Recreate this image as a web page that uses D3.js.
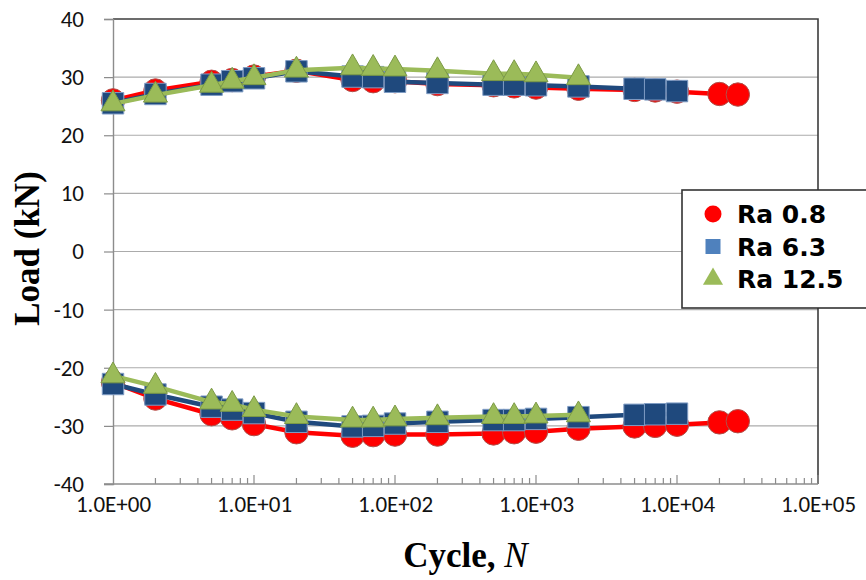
<!DOCTYPE html>
<html>
<head>
<meta charset="utf-8">
<script src="https://cdn.jsdelivr.net/npm/d3@7"></script>
<style>
  html, body { margin: 0; padding: 0; background: #fff; }
  svg { display: block; }
</style>
</head>
<body>
<div id="chart"></div>
<script>
// Load vs cycle count for three surface roughness values (upper / lower load peaks).

const cycles = [1, 2, 5, 7, 10, 20, 50, 70, 100, 200, 500, 700, 1000, 2000, 5000, 7000, 10000, 20000, 27000];

// Ra 0.8 — full cycle range
const ra08Upper = [26.0, 27.7, 29.2, 29.5, 30.1, 31.1, 29.5, 29.3, 29.3, 28.8, 28.6, 28.4, 28.2, 28.0, 27.8, 27.7, 27.5, 27.1, 27.0];
const ra08Lower = [-22.5, -25.3, -28.0, -28.7, -29.7, -31.1, -31.7, -31.6, -31.5, -31.5, -31.3, -31.1, -31.0, -30.5, -30.1, -30.0, -29.8, -29.4, -29.2];

// Ra 6.3 — up to 1e4 cycles
const ra63Upper = [25.5, 27.1, 28.7, 29.3, 29.8, 31.0, 30.1, 30.0, 29.2, 29.0, 28.7, 28.7, 28.6, 28.4, 28.0, 27.9, 27.6];
const ra63Lower = [-22.8, -24.6, -26.7, -27.2, -27.8, -29.3, -30.1, -30.0, -29.6, -29.3, -29.0, -29.0, -28.8, -28.5, -28.1, -28.0, -27.9];

// Ra 12.5 — up to 2000 cycles
const ra125Upper = [25.4, 26.9, 28.6, 29.3, 29.9, 31.2, 31.6, 31.5, 31.4, 31.1, 30.6, 30.6, 30.4, 29.9];
const ra125Lower = [-21.4, -23.2, -25.9, -26.3, -27.2, -28.4, -29.0, -29.0, -28.8, -28.6, -28.4, -28.4, -28.3, -28.1];

const yTicks = [-40, -30, -20, -10, 0, 10, 20, 30, 40];
const xTicks = [1, 10, 100, 1000, 10000, 100000];

const W = 866, H = 580;
const margin = { left: 113, right: 48, top: 19, bottom: 96 };

const svg = d3.select("#chart").append("svg")
  .attr("width", W).attr("height", H)
  .attr("viewBox", `0 0 ${W} ${H}`);

const x = d3.scaleLog().domain([1, 100000]).range([margin.left, W - margin.right]);
const y = d3.scaleLinear().domain([-40, 40]).range([H - margin.bottom, margin.top]);

const tickFont = "Carlito, Calibri, 'Open Sans', sans-serif";

// horizontal gridlines
svg.append("g").selectAll("line")
  .data(yTicks.filter(d => d > -40 && d < 40)).join("line")
  .attr("x1", x(1)).attr("x2", x(100000))
  .attr("y1", d => y(d)).attr("y2", d => y(d))
  .attr("stroke", "#ababab").attr("stroke-width", 1.2);

// plot frame: dark top / right edge
svg.append("path")
  .attr("d", `M${x(1)},${y(40)}H${x(100000)}V${y(-40)}`)
  .attr("fill", "none").attr("stroke", "#3c3c3c").attr("stroke-width", 1.6);

// y axis
const yAxis = d3.axisLeft(y).tickValues(yTicks).tickSize(9).tickPadding(20)
  .tickFormat(d => String(d));
const yg = svg.append("g").attr("transform", `translate(${x(1)},0)`).call(yAxis);
yg.select(".domain").attr("stroke", "#8c8c8c").attr("stroke-width", 1.4);
yg.selectAll(".tick line").attr("stroke", "#8c8c8c").attr("stroke-width", 1.2);
yg.selectAll(".tick text").attr("font-family", tickFont).attr("font-size", 23)
  .attr("fill", "#111");

// x axis: labels below, ticks drawn inside the plot
const xAxis = d3.axisBottom(x).tickValues(xTicks).tickSize(0).tickPadding(12)
  .tickFormat(d => "1.0E+0" + Math.round(Math.log10(d)));
const xg = svg.append("g").attr("transform", `translate(0,${y(-40)})`).call(xAxis);
xg.select(".domain").remove();
xg.selectAll(".tick text").attr("font-family", tickFont).attr("font-size", 23)
  .attr("fill", "#111");

const minor = [];
for (let e = 0; e < 5; e++) for (let m = 2; m <= 10; m++) minor.push(m * Math.pow(10, e));
svg.append("g").selectAll("line").data(minor).join("line")
  .attr("x1", d => x(d)).attr("x2", d => x(d))
  .attr("y1", y(-40)).attr("y2", d => y(-40) - (Number.isInteger(Math.log10(d)) ? 9 : 6))
  .attr("stroke", "#8c8c8c").attr("stroke-width", 1.2);

svg.append("line")
  .attr("x1", x(1) - 9).attr("x2", x(100000))
  .attr("y1", y(-40)).attr("y2", y(-40))
  .attr("stroke", "#8c8c8c").attr("stroke-width", 1.4);

// axis titles
svg.append("text")
  .attr("transform", `translate(39,${y(0) - 3}) rotate(-90)`)
  .attr("text-anchor", "middle")
  .attr("font-family", "'Liberation Serif', 'Times New Roman', serif")
  .attr("font-weight", "bold").attr("font-size", 35)
  .text("Load (kN)");

const xt = svg.append("text")
  .attr("x", (x(1) + x(100000)) / 2).attr("y", 567)
  .attr("text-anchor", "middle")
  .attr("font-family", "'Liberation Serif', 'Times New Roman', serif")
  .attr("font-weight", "bold").attr("font-size", 35);
xt.append("tspan").text("Cycle, ");
xt.append("tspan").attr("font-style", "italic").attr("font-weight", "normal").text("N");

// series
const series = [
  { name: "Ra 0.8", upper: ra08Upper, lower: ra08Lower, line: "#ff0000",
    fill: "#ff0000", edge: "#b0504a", legendFill: "#ff0000", shape: d3.symbolCircle, size: 430 },
  { name: "Ra 6.3", upper: ra63Upper, lower: ra63Lower, line: "#1f497d",
    fill: "#1f497d", edge: "#7f9cc4", legendFill: "#4f81bd", shape: d3.symbolSquare, size: 460 },
  { name: "Ra 12.5", upper: ra125Upper, lower: ra125Lower, line: "#9bbb59",
    fill: "#9bbb59", edge: "#7c9a46", legendFill: "#9bbb59", shape: d3.symbolTriangle, size: 250 }
];

const line = d3.line().x(d => x(d[0])).y(d => y(d[1]));

series.forEach(s => {
  const g = svg.append("g");
  [s.upper, s.lower].forEach(vals => {
    const pts = vals.map((v, i) => [cycles[i], v]);
    g.append("path").datum(pts)
      .attr("d", line)
      .attr("fill", "none").attr("stroke", s.line).attr("stroke-width", 4.5)
      .attr("stroke-linejoin", "round");
    g.append("g").selectAll("path").data(pts).join("path")
      .attr("transform", d => `translate(${x(d[0])},${y(d[1])})`)
      .attr("d", d3.symbol(s.shape, s.size))
      .attr("fill", s.fill).attr("stroke", s.edge).attr("stroke-width", 1);
  });
});

// legend
const lg = svg.append("g").attr("transform", "translate(682,190)");
lg.append("rect").attr("width", 200).attr("height", 118)
  .attr("fill", "#fff").attr("stroke", "#333").attr("stroke-width", 1.6);
series.forEach((s, i) => {
  const row = lg.append("g").attr("transform", `translate(31,${24 + i * 32.5})`);
  row.append("path")
    .attr("d", d3.symbol(s.shape, [227, 225, 175][i]))
    .attr("fill", s.legendFill);
  row.append("text").attr("x", 24).attr("dy", "0.36em")
    .attr("font-family", "'DejaVu Sans', Verdana, sans-serif")
    .attr("font-weight", "bold").attr("font-size", 25)
    .text(s.name);
});
</script>
</body>
</html>
